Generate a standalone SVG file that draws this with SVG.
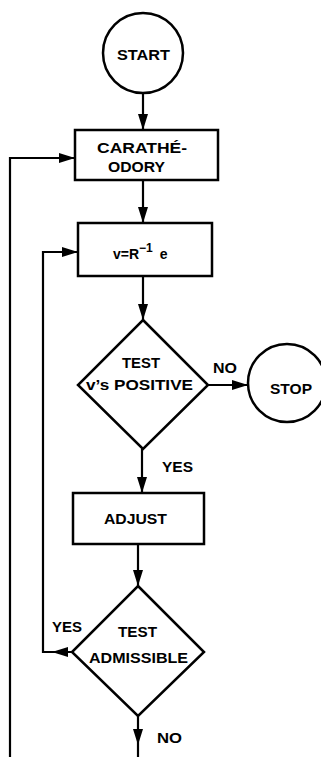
<svg xmlns="http://www.w3.org/2000/svg" width="321" height="757" viewBox="0 0 321 757">
<defs>
<style>
.shape{fill:#fff;stroke:#000;stroke-width:2.5}
.line{fill:none;stroke:#000;stroke-width:2.2}
.t{font-family:"Liberation Sans",Arial,sans-serif;font-weight:bold;font-size:15px;fill:#000;text-anchor:middle}
.s{font-family:"Liberation Sans",Arial,sans-serif;font-weight:bold;font-size:14px;fill:#000}
.head{fill:#000}
</style>
<marker id="arr" markerUnits="userSpaceOnUse" viewBox="0 0 16 10" markerWidth="16" markerHeight="10" refX="16" refY="5" orient="auto">
<path d="M0,0 L16,5 L0,10 z" fill="#000"/>
</marker>
</defs>
<rect width="321" height="757" fill="#fff"/>
<g id="connectors">
<path class="line" d="M143,92 V130" marker-end="url(#arr)"/>
<path class="line" d="M143,180 V223" marker-end="url(#arr)"/>
<path class="line" d="M143,276 V320" marker-end="url(#arr)"/>
<path class="line" d="M208,385 H248" marker-end="url(#arr)"/>
<path class="line" d="M142,449 V493" marker-end="url(#arr)"/>
<path class="line" d="M138,544 V586" marker-end="url(#arr)"/>
<path class="line" d="M73,652 H43 V252 H78" marker-end="url(#arr)"/>
<polygon class="head" points="52,652 68,647 68,657"/>
<path class="line" d="M138,716 V757"/>
<polygon class="head" points="138,745 133,729 143,729"/>
<path class="line" d="M10,757 V158 H75" marker-end="url(#arr)"/>
</g>
<g id="start">
<circle class="shape" cx="143" cy="53" r="40"/>
<text class="t" x="143.5" y="60" textLength="53" lengthAdjust="spacingAndGlyphs">START</text>
</g>
<g id="caratheodory">
<rect class="shape" x="75" y="130" width="143" height="50"/>
<text class="t" x="142" y="153" textLength="90" lengthAdjust="spacingAndGlyphs">CARATHÉ-</text>
<text class="t" x="136.5" y="172" textLength="57" lengthAdjust="spacingAndGlyphs">ODORY</text>
</g>
<g id="vre">
<rect class="shape" x="78" y="223" width="134" height="53"/>
<text class="s" x="113" y="259">v=R<tspan font-size="12" dy="-7">−1</tspan><tspan dy="7" dx="7">e</tspan></text>
</g>
<g id="test-positive">
<polygon class="shape" points="143,320 208,385 143,449 78,385"/>
<text class="t" x="141" y="368" textLength="38" lengthAdjust="spacingAndGlyphs">TEST</text>
<text class="t" x="139.5" y="390" textLength="107" lengthAdjust="spacingAndGlyphs">v’s POSITIVE</text>
</g>
<g id="stop">
<circle class="shape" cx="287" cy="383" r="39"/>
<text class="t" x="291" y="394" textLength="42" lengthAdjust="spacingAndGlyphs">STOP</text>
</g>
<g id="adjust">
<rect class="shape" x="73" y="493" width="131" height="51"/>
<text class="t" x="135.5" y="524" textLength="63" lengthAdjust="spacingAndGlyphs">ADJUST</text>
</g>
<g id="test-admissible">
<polygon class="shape" points="138,586 204,652 138,716 72,652"/>
<text class="t" x="137.5" y="637" textLength="39" lengthAdjust="spacingAndGlyphs">TEST</text>
<text class="t" x="138.5" y="663" textLength="99" lengthAdjust="spacingAndGlyphs">ADMISSIBLE</text>
</g>
<g id="labels">
<text class="t" x="225" y="373" textLength="24" lengthAdjust="spacingAndGlyphs">NO</text>
<text class="t" x="177.5" y="472" textLength="31" lengthAdjust="spacingAndGlyphs">YES</text>
<text class="t" x="67" y="632" textLength="30" lengthAdjust="spacingAndGlyphs">YES</text>
<text class="t" x="169.5" y="743" textLength="25" lengthAdjust="spacingAndGlyphs">NO</text>
</g>
</svg>
